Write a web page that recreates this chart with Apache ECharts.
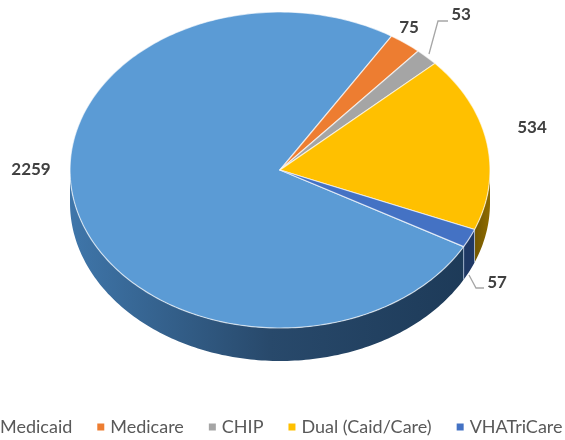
<!DOCTYPE html>
<html><head><meta charset="utf-8">
<style>html,body{margin:0;padding:0;background:#fff}#c{width:565px;height:440px}</style>
<script src="https://cdn.jsdelivr.net/npm/echarts@6/dist/echarts.min.js"></script>
</head><body><div id="c"></div>
<script>
const categories = ['Medicaid','Medicare','CHIP','Dual (Caid/Care)','VHATriCare'];
const values = [2259,75,53,534,57];
const topColors = ['#5b9bd5','#ed7d31','#a5a5a5','#ffc000','#4472c4'];

// layout (not data)
const CX=280, CY=170, RX=210, RY=158, DEPTH=33, START=119;
const labelAt = [[31,170],[409,28],[461,15],[532,128],[497,283]];
const leaders = {2:[[429,54],[438,21],[448,21]],4:[[469,275],[476,288],[484,288]]};
const sideFill = [
  new echarts.graphic.LinearGradient(70,0,470,0,[{offset:0,color:'#3f76aa'},{offset:.5,color:'#28496b'},{offset:1,color:'#1d3a58'}],true),
  '#8c4a1c','#666666',
  new echarts.graphic.LinearGradient(465,0,490,0,[{offset:0,color:'#5f4800'},{offset:1,color:'#8f6c00'}],true),
  '#1f3864'];

const total = values.reduce((a,b)=>a+b,0);
function pt(deg,dy){const r=deg*Math.PI/180;return [CX+RX*Math.sin(r),CY-RY*Math.cos(r)+(dy||0)];}
function arc(a,b,dy){const n=Math.max(2,Math.ceil(Math.abs(b-a)));const o=[];for(let i=0;i<=n;i++)o.push(pt(a+(b-a)*i/n,dy));return o;}

function render(idx){
  return function(params,api){
    const v=api.value(0);
    let before=0; for(let i=0;i<idx;i++) before+=values[i];
    let a=START+before/total*360;
    if(a>=360) a-=360;
    const b=a+v/total*360;
    const kids=[];
    const s=Math.max(a,90), e=Math.min(b,270);
    if(e>s){
      const up=arc(s,e,0), down=arc(e,s,DEPTH);
      kids.push({type:'polygon',shape:{points:up.concat(down)},style:{fill:sideFill[idx]},z2:1});
      if(a>90){
        const p=pt(a,0);
        kids.push({type:'line',shape:{x1:p[0],y1:p[1],x2:p[0],y2:p[1]+DEPTH},style:{stroke:'rgba(200,215,240,.65)',lineWidth:1},z2:2});
      }
    }
    kids.push({type:'polygon',shape:{points:[[CX,CY]].concat(arc(a,b,0))},
      style:{fill:topColors[idx],stroke:'rgba(255,255,255,.65)',lineWidth:1.2,lineJoin:'round'},z2:3});
    if(leaders[idx]) kids.push({type:'polyline',shape:{points:leaders[idx]},style:{stroke:'#a6a6a6',lineWidth:1.3,fill:null},z2:4});
    kids.push({type:'text',x:labelAt[idx][0],y:labelAt[idx][1],z2:5,
      style:{text:String(v),fill:'#404040',font:'bold 17px Lato',align:'center',verticalAlign:'middle'}});
    return {type:'group',children:kids};
  };
}

const chart=echarts.init(document.getElementById('c'),null,{renderer:'canvas'});
chart.setOption({
  animation:false,
  backgroundColor:'#fff',
  legend:{
    data:categories,left:-13,top:418,padding:0,itemGap:25,itemWidth:7,itemHeight:7,icon:'rect',
    itemStyle:{borderWidth:0},
    textStyle:{fontFamily:'Lato',fontSize:18,color:'#595959',padding:[0,0,0,1]}
  },
  series:categories.map((name,i)=>({
    type:'custom',name,coordinateSystem:'none',
    itemStyle:{color:topColors[i]},
    renderItem:render(i),
    data:[{name,value:[values[i]]}]
  }))
});
</script></body></html>
